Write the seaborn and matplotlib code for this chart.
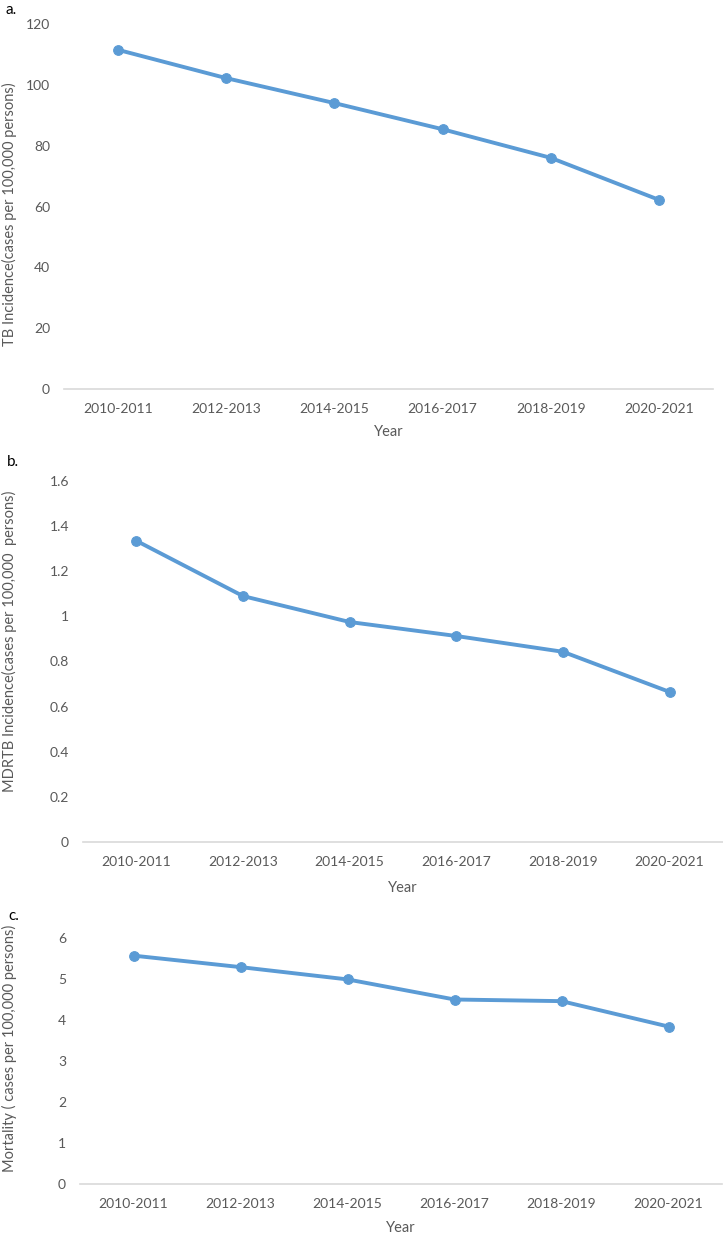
import matplotlib
matplotlib.use("Agg")
import matplotlib.pyplot as plt
import seaborn as sns
import pandas as pd

# datos
years = ["2010-2011", "2012-2013", "2014-2015", "2016-2017", "2018-2019", "2020-2021"]
tb_incidence = [111.5, 102.2, 94.0, 85.4, 76.0, 62.2]
mdrtb_incidence = [1.335, 1.09, 0.975, 0.913, 0.843, 0.665]
mortality = [5.57, 5.29, 4.99, 4.50, 4.46, 3.84]

ylabels = [
    "TB Incidence(cases per 100,000 persons)",
    "MDRTB Incidence(cases per 100,000  persons)",
    "Mortality ( cases per 100,000 persons)",
]
yticks = [
    [0, 20, 40, 60, 80, 100, 120],
    [0, 0.2, 0.4, 0.6, 0.8, 1, 1.2, 1.4, 1.6],
    [0, 1, 2, 3, 4, 5, 6],
]
panel_tags = ["a.", "b.", "c."]

sns.set_style("white")
plt.rcParams["font.family"] = ["Lato", "DejaVu Sans"]

W, H = 723, 1240
fig = plt.figure(figsize=(W / 100, H / 100), dpi=100)

# posiciones en pixeles: izquierda, derecha, arriba, abajo
boxes = [(64, 713, 24, 389), (83, 723, 481, 842), (80, 722, 938, 1184)]
ylabel_centers = [214, 641, 1048]
xlabel_y = [432, 888, 1228]
tag_pos = [(5, 10), (7, 462), (8, 916)]

line_color = "#5B9BD5"
text_color = "#595959"

series = [tb_incidence, mdrtb_incidence, mortality]

for i, vals in enumerate(series):
    l, r, t, b = boxes[i]
    ax = fig.add_axes([l / W, 1 - b / H, (r - l) / W, (b - t) / H])
    df = pd.DataFrame({"Year": years, "Value": vals})
    sns.lineplot(data=df, x="Year", y="Value", ax=ax, color=line_color,
                 linewidth=2.8, marker="o", markersize=7,
                 markeredgecolor=line_color, sort=False)
    ax.set_xlim(-0.5, len(years) - 0.5)
    ax.set_ylim(yticks[i][0], yticks[i][-1])
    ax.set_yticks(yticks[i])
    ax.set_yticklabels([f"{v:g}" for v in yticks[i]])
    sns.despine(ax=ax, left=True)
    ax.spines["bottom"].set_color("#D9D9D9")
    ax.spines["bottom"].set_linewidth(1.2)
    ax.tick_params(axis="both", length=0, colors=text_color, labelsize=10)
    ax.tick_params(axis="y", pad=10)
    ax.tick_params(axis="x", pad=10)
    ax.grid(False)
    ax.set_xlabel("")
    ax.set_ylabel("")

    # titulos de ejes colocados en pixeles
    fig.text(((l + r) / 2) / W, 1 - xlabel_y[i] / H, "Year", color=text_color,
             fontsize=10.5, ha="center", va="center")
    fig.text(9 / W, 1 - ylabel_centers[i] / H, ylabels[i], color=text_color,
             fontsize=10.5, rotation=90, ha="center", va="center")

    tx, ty = tag_pos[i]
    fig.text(tx / W, 1 - ty / H, panel_tags[i], fontsize=11, color="black",
             ha="left", va="center")

fig.savefig("out.png", dpi=100)
